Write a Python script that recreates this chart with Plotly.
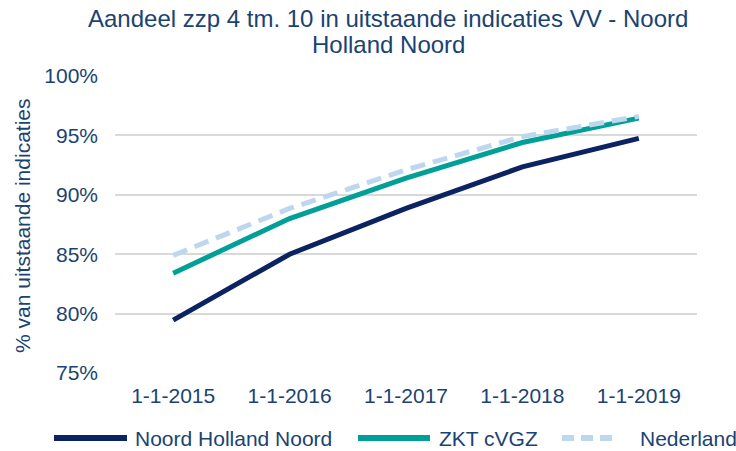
import plotly.graph_objects as go

categories = ["1-1-2015", "1-1-2016", "1-1-2017", "1-1-2018", "1-1-2019"]
nhn = [79.45, 85.0, 88.85, 92.35, 94.75]
zkt = [83.4, 88.0, 91.4, 94.4, 96.45]
ned = [84.9, 88.85, 92.1, 94.9, 96.6]
series_names = ["Noord Holland Noord", "ZKT cVGZ", "Nederland"]
y_ticks = [75, 80, 85, 90, 95, 100]
y_ticktext = [f"{v}%" for v in y_ticks]
title_lines = ["Aandeel zzp 4 tm. 10 in uitstaande indicaties VV - Noord", "Holland Noord"]
y_title = "% van uitstaande indicaties"

TXT = "#1A4372"
FONT = "Liberation Sans, Arial, sans-serif"
colors = ["#0B2461", "#00A099", "#BDD7EE"]
dashes = ["solid", "solid", "15px,8px"]

fig = go.Figure()
for name, vals, c, d in zip(series_names, [nhn, zkt, ned], colors, dashes):
    fig.add_trace(go.Scatter(x=categories, y=vals, mode="lines", name=name,
                             line=dict(color=c, width=5, dash=d), showlegend=False))

W, H = 736, 451
L, R, T, B = 115, 39, 76, 78
PW, PH = W - L - R, H - T - B


def px(x):
    return (x - L) / PW


def py(y):
    return (H - B - y) / PH


# custom legend (lines + text)
leg_y = 438
items = [(54, 127, 133), (358, 430, 437), (562, 618, 638)]
for (x0, x1, tx), name, c, d in zip(items, series_names, colors, dashes):
    fig.add_shape(type="line", xref="paper", yref="paper",
                  x0=px(x0), x1=px(x1), y0=py(leg_y), y1=py(leg_y),
                  line=dict(color=c, width=6, dash="solid" if d == "solid" else "12px,7px"))
    fig.add_annotation(xref="paper", yref="paper", x=px(tx), y=py(leg_y),
                       text=name, showarrow=False, xanchor="left", yanchor="middle",
                       font=dict(family=FONT, size=21, color=TXT))

# title (two lines, tight spacing)
for line, yy in zip(title_lines, [18, 45]):
    fig.add_annotation(xref="paper", yref="paper", x=px(388), y=py(yy),
                       text=line, showarrow=False, xanchor="center", yanchor="middle",
                       font=dict(family=FONT, size=24, color=TXT))
# y-axis title
fig.add_annotation(xref="paper", yref="paper", x=px(23), y=py(226),
                   text=y_title, textangle=-90,
                   showarrow=False, xanchor="center", yanchor="middle",
                   font=dict(family=FONT, size=21, color=TXT))

fig.update_layout(
    width=W, height=H, autosize=False,
    margin=dict(l=L, r=R, t=T, b=B, autoexpand=False),
    paper_bgcolor="white", plot_bgcolor="white",
    font=dict(family=FONT, size=21, color=TXT),
    showlegend=False,
)
fig.update_xaxes(type="category", range=[-0.5, 4.5], showgrid=False, showline=False,
                 zeroline=False, automargin=False,
                 ticks="", ticklabelstandoff=8, tickfont=dict(size=21, color=TXT))
fig.update_yaxes(range=[75, 100], tickvals=y_ticks, ticktext=y_ticktext,
                 showgrid=True, gridcolor="#D9D9D9", gridwidth=1.5, zeroline=False,
                 showline=False, ticks="", ticklabelstandoff=16, automargin=False,
                 tickfont=dict(size=21, color=TXT))

fig.write_html("out.html", config={"displayModeBar": False},
               post_script="document.body.style.margin='0';document.body.style.overflow='hidden';")
